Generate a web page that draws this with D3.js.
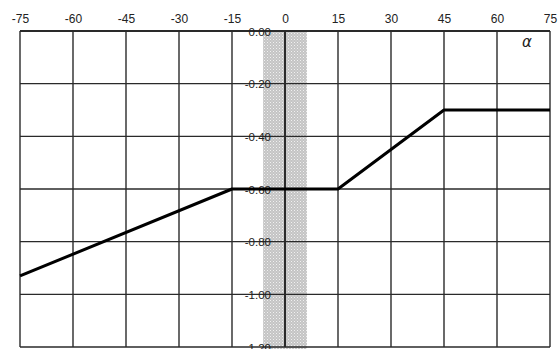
<!DOCTYPE html>
<html><head><meta charset="utf-8">
<script src="https://cdn.jsdelivr.net/npm/d3@7"></script>
<style>html,body{margin:0;padding:0;background:#fff;}svg{display:block;}</style>
</head><body>
<svg id="c" width="559" height="349"></svg>
<script>
// data
const xTicks = [-75, -60, -45, -30, -15, 0, 15, 30, 45, 60, 75];
const yTicks = [0, -0.2, -0.4, -0.6, -0.8, -1.0, -1.2];
const yTickLabels = ["0.00", "-0.20", "-0.40", "-0.60", "-0.80", "-1.00", "-1.20"];
const alpha = [-75, -15, 15, 45, 75];
const value = [-0.93, -0.6, -0.6, -0.3, -0.3];
const band = [-6.2, 6.2];

const svg = d3.select("#c");
const x = d3.scaleLinear().domain([-75, 75]).range([20, 550]);
const y = d3.scaleLinear().domain([-1.2, 0]).range([347, 31]);

const defs = svg.append("defs");
const pat = defs.append("pattern").attr("id", "dots").attr("patternUnits", "userSpaceOnUse")
  .attr("width", 3).attr("height", 3);
pat.append("rect").attr("width", 3).attr("height", 3).attr("fill", "#c4c4c4");
pat.append("rect").attr("x", 0).attr("y", 0).attr("width", 1).attr("height", 1).attr("fill", "#f0f0f0");
pat.append("rect").attr("x", 1.5).attr("y", 1.5).attr("width", 1).attr("height", 1).attr("fill", "#e2e2e2");

// shaded band
svg.append("rect")
  .attr("x", x(band[0])).attr("y", y(0))
  .attr("width", x(band[1]) - x(band[0])).attr("height", y(-1.2) - y(0) + 2)
  .attr("fill", "url(#dots)");

// grid
const grid = svg.append("g").attr("stroke", "#2a2a2a").attr("stroke-width", 1.4);
grid.selectAll("line.v").data(xTicks).join("line").attr("class", "v")
  .attr("x1", d => x(d)).attr("x2", d => x(d)).attr("y1", y(0)).attr("y2", y(-1.2))
  .attr("stroke-width", d => d === 0 ? 2 : 1.4);
grid.selectAll("line.h").data(yTicks).join("line").attr("class", "h")
  .attr("y1", d => y(d)).attr("y2", d => y(d)).attr("x1", x(-75)).attr("x2", x(75))
  .attr("stroke-width", d => d === 0 ? 2 : 1.4);

// top axis labels
const xAxis = d3.axisTop(x).tickValues(xTicks).tickSize(0).tickPadding(8).tickFormat(d => String(d));
const gx = svg.append("g").attr("transform", `translate(0,${y(0)})`).call(xAxis);
gx.select(".domain").remove();
gx.selectAll("text").attr("font-family", "'Liberation Sans', Arial, sans-serif")
  .attr("font-size", 12).attr("fill", "#222");

// y axis labels at x=0
const yAxis = d3.axisLeft(y).tickValues(yTicks).tickSize(0).tickPadding(14)
  .tickFormat((d, i) => yTickLabels[i]);
const gy = svg.append("g").attr("transform", `translate(${x(0)},0)`).call(yAxis);
gy.select(".domain").remove();
gy.selectAll("text").attr("font-family", "'Liberation Sans', Arial, sans-serif")
  .attr("font-size", 11.5).attr("fill", "#222").attr("dy", "0.35em");

// data line
const pts = alpha.map((a, i) => [a, value[i]]);
svg.append("path").datum(pts)
  .attr("d", d3.line().x(d => x(d[0])).y(d => y(d[1])))
  .attr("fill", "none").attr("stroke", "#000").attr("stroke-width", 3)
  .attr("stroke-linejoin", "round");

// alpha label
svg.append("text").attr("x", x(68.5)).attr("y", y(-0.06))
  .attr("text-anchor", "middle").attr("font-family", "'DejaVu Sans', sans-serif")
  .attr("font-style", "italic").attr("font-size", 15).attr("fill", "#222").text("α");
</script>
</body></html>
